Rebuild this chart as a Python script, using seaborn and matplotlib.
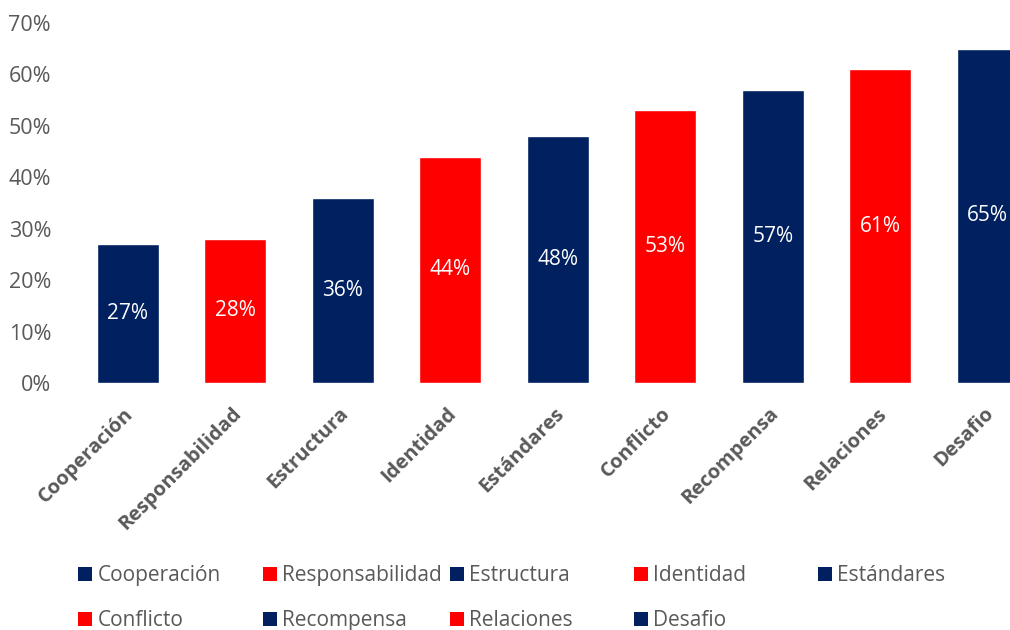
import matplotlib
matplotlib.use("Agg")
import matplotlib.pyplot as plt
import matplotlib.transforms as mtransforms
import seaborn as sns
from matplotlib.patches import Patch
from matplotlib.ticker import FuncFormatter

# Data
categorias = ["Cooperación", "Responsabilidad", "Estructura", "Identidad", "Estándares",
              "Conflicto", "Recompensa", "Relaciones", "Desafio"]
valores = [27, 28, 36, 44, 48, 53, 57, 61, 65]
NAVY = "#002060"
RED = "#FF0000"
colores = [NAVY, RED, NAVY, RED, NAVY, RED, NAVY, RED, NAVY]
y_ticks = [0, 10, 20, 30, 40, 50, 60, 70]

GRAY = "#595959"
sns.set_theme(style="white")
plt.rcParams["font.family"] = ["Open Sans", "DejaVu Sans"]

W, H = 1010, 630
fig = plt.figure(figsize=(W / 100, H / 100), dpi=100)
# plot area runs past the right edge of the canvas
ax = fig.add_axes([74 / W, (H - 383) / H, 967.5 / W, 360 / H])

sns.barplot(x=categorias, y=valores, hue=categorias, palette=colores,
            saturation=1, width=0.58, legend=False, ax=ax)

for cont, v in zip(ax.containers, valores):
    ax.bar_label(cont, labels=[f"{v}%"], label_type="center",
                 color="white", fontsize=15)

ax.set_xlim(-0.5, len(categorias) - 0.5)
ax.set_ylim(0, 70)
ax.set_yticks(y_ticks)
ax.yaxis.set_major_formatter(FuncFormatter(lambda x, _: f"{x:.0f}%"))
ax.tick_params(axis="y", length=0, pad=16.5, labelsize=15.5, labelcolor=GRAY)
ax.tick_params(axis="x", length=0, pad=15)
ax.set_xticks(range(len(categorias)))
ax.set_xticklabels(categorias, rotation=45, ha="right", va="top",
                   rotation_mode="anchor", fontsize=14.5, fontweight="bold",
                   color=GRAY)
shift = mtransforms.ScaledTranslation(-4 / 100, 0, fig.dpi_scale_trans)
for lab in ax.get_xticklabels():
    lab.set_transform(lab.get_transform() + shift)
for s in ax.spines.values():
    s.set_visible(False)
ax.grid(False)

# Legend laid out in fixed-width columns
handles = [Patch(facecolor=c, edgecolor="none") for c in colores]
ncol = 5
col_x = [78, 263, 450, 634, 818]
for j in range(ncol):
    idx = [i for i in range(len(categorias)) if i % ncol == j]
    fig.legend([handles[i] for i in idx], [categorias[i] for i in idx],
               loc="upper left", bbox_to_anchor=(col_x[j] / W, 1 - 565 / H),
               frameon=False, fontsize=15, labelcolor=GRAY,
               handlelength=0.68, handleheight=0.68, handletextpad=0.25,
               labelspacing=1.15, borderaxespad=0, borderpad=0)

fig.savefig("out.png", dpi=100, facecolor="white")
